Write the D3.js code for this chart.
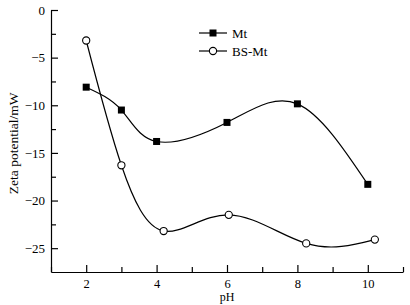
<!DOCTYPE html>
<html>
<head>
<meta charset="utf-8">
<script src="https://cdn.jsdelivr.net/npm/d3@7"></script>
<style>
  body { margin: 0; background: #fff; }
  svg text { font-family: "Liberation Serif", "Times New Roman", serif; fill: #000; }
</style>
</head>
<body>
<div id="chart"></div>
<script>
// data
const mt_ph   = [2, 3, 4, 6, 8, 10] ;
const mt_zeta = [-8.1, -10.5, -13.8, -11.8, -9.85, -18.3] ;
const bs_ph   = [2, 3, 4.2, 6.05, 8.25, 10.2] ;
const bs_zeta = [-3.2, -16.3, -23.2, -21.5, -24.5, -24.1] ;
const x_major = [2, 4, 6, 8, 10] ;
const x_minor = [1, 3, 5, 7, 9, 11] ;
const y_major = [0, -5, -10, -15, -20, -25] ;
const y_minor = [-2.5, -7.5, -12.5, -17.5, -22.5] ;
const series_names = ["Mt", "BS-Mt"] ;

let dimensions = {
  width: 410,
  height: 305,
  margin: {top: 10, right: 7, bottom: 33, left: 51},
}
dimensions.boundedWidth = dimensions.width - dimensions.margin.left - dimensions.margin.right
dimensions.boundedHeight = dimensions.height - dimensions.margin.top - dimensions.margin.bottom

const svg = d3.select("#chart").append("svg")
    .attr("width", dimensions.width)
    .attr("height", dimensions.height)
;
const bounds = svg.append("g")
    .attr("transform", `translate(${dimensions.margin.left},${dimensions.margin.top})`)
;

const xScale = d3.scaleLinear()
  .domain([1, 11])
  .range([0, dimensions.boundedWidth])
;
const yScale = d3.scaleLinear()
  .domain([-27.5, 0])
  .range([dimensions.boundedHeight, 0])
;

// axes - ticks point inward
function styleAxis(g, size) {
  g.selectAll("path, line").attr("stroke", "#000").attr("stroke-width", 1.2) ;
  g.selectAll("text").style("font-size", size).style("font-family", "Liberation Serif") ;
}

bounds.append("g")
  .attr("transform", `translate(0,${dimensions.boundedHeight})`)
  .call(d3.axisBottom(xScale).tickValues(x_minor).tickSize(-5).tickSizeOuter(0).tickFormat(""))
  .call(styleAxis, "12px")
;
bounds.append("g")
  .attr("transform", `translate(0,${dimensions.boundedHeight})`)
  .call(d3.axisBottom(xScale).tickValues(x_major).tickSize(-7).tickSizeOuter(0).tickPadding(7).tickFormat(d3.format("d")))
  .call(styleAxis, "12.5px")
  .call(g => g.select(".domain").remove())
;
bounds.append("g")
  .call(d3.axisLeft(yScale).tickValues(y_minor).tickSize(-5).tickSizeOuter(0).tickFormat(""))
  .call(styleAxis, "13px")
;
bounds.append("g")
  .call(d3.axisLeft(yScale).tickValues(y_major).tickSize(-7).tickSizeOuter(0).tickPadding(6).tickFormat(d3.format("d")))
  .call(styleAxis, "13px")
  .call(g => g.select(".domain").remove())
;

// axis titles
svg.append("text")
  .attr("x", dimensions.margin.left + xScale(6))
  .attr("y", 301)
  .attr("text-anchor", "middle")
  .style("font-size", "12px")
  .text("pH")
;
svg.append("text")
  .attr("transform", `translate(18,${dimensions.margin.top + yScale(-14)}) rotate(-90)`)
  .attr("text-anchor", "middle")
  .style("font-size", "13.5px")
  .text("Zeta potential/mW")
;

// curves
const mt = mt_ph.map((d, i) => ({x: d, y: mt_zeta[i]})) ;
const bs = bs_ph.map((d, i) => ({x: d, y: bs_zeta[i]})) ;

const lineGen = d3.line()
  .x(d => xScale(d.x))
  .y(d => yScale(d.y))
  .curve(d3.curveNatural)
;

bounds.selectAll("path.series")
  .data([mt, bs])
  .enter().append("path")
    .attr("class", "series")
    .attr("d", lineGen)
    .attr("fill", "none")
    .attr("stroke", "#000")
    .attr("stroke-width", 1.2)
;

bounds.selectAll("rect.mt")
  .data(mt)
  .enter().append("rect")
    .attr("class", "mt")
    .attr("x", d => xScale(d.x) - 3.5)
    .attr("y", d => yScale(d.y) - 3.5)
    .attr("width", 7)
    .attr("height", 7)
    .attr("fill", "#000")
;
bounds.selectAll("circle.bs")
  .data(bs)
  .enter().append("circle")
    .attr("class", "bs")
    .attr("cx", d => xScale(d.x))
    .attr("cy", d => yScale(d.y))
    .attr("r", 3.6)
    .attr("fill", "#fff")
    .attr("stroke", "#000")
    .attr("stroke-width", 1.1)
;

// legend
const legend = svg.append("g").attr("transform", "translate(199,33)") ;
series_names.forEach((name, i) => {
  const row = legend.append("g").attr("transform", `translate(0,${i * 18})`) ;
  row.append("line")
    .attr("x1", 0).attr("x2", 28)
    .attr("stroke", "#000").attr("stroke-width", 1.2) ;
  if (i == 0) {
    row.append("rect").attr("x", 10.5).attr("y", -3.5).attr("width", 7).attr("height", 7).attr("fill", "#000") ;
  } else {
    row.append("circle").attr("cx", 14).attr("r", 3.6).attr("fill", "#fff").attr("stroke", "#000").attr("stroke-width", 1.1) ;
  }
  row.append("text")
    .attr("x", 33)
    .attr("dy", "0.35em")
    .style("font-size", "13px")
    .text(name) ;
}) ;
</script>
</body>
</html>
